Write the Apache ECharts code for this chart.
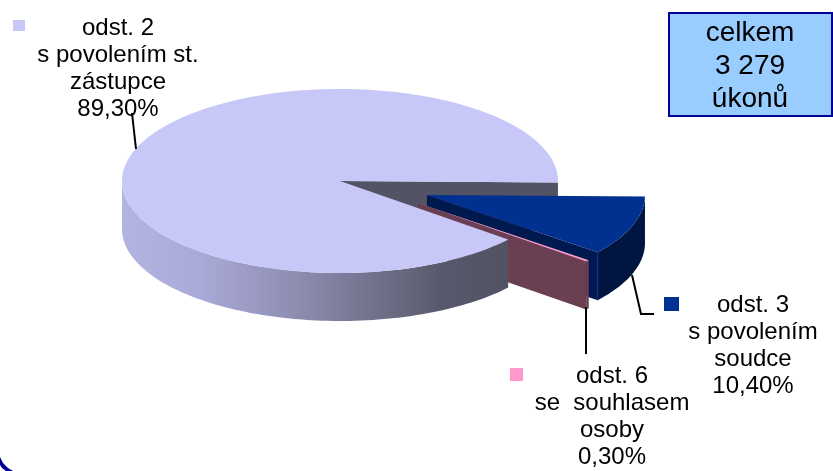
<!DOCTYPE html>
<html>
<head>
<meta charset="utf-8">
<style>html,body{margin:0;padding:0;background:#fff}#c{width:833px;height:471px}</style>
<script src="https://cdn.jsdelivr.net/npm/echarts@6/dist/echarts.min.js"></script>
</head>
<body>
<div id="c"></div>
<script>
const categories = ['odst. 3\ns povolením\nsoudce', 'odst. 6\nse  souhlasem\nosoby', 'odst. 2\ns povolením st.\nzástupce'];
const values = [10.4, 0.3, 89.3];
const percentLabels = ['10,40%', '0,30%', '89,30%'];
const totalLines = ['celkem', '3 279', 'úkonů'];
const keyColors = ['#003090', '#ff99cc', '#c8c8f8'];

const FONT = '"Liberation Sans", Arial, sans-serif';
const cx = 340, cy = 181, rx = 218, ry = 92, depth = 48, rotation = 1;
const looks = [
  { dx: 87, dy: 14, z: 10, top: '#003090', side: '#00153f', face: '#001a50' },
  { dx: 78, dy: 22, z: 20, top: '#ff99cc', side: '#6b3f52', face: '#6b3f52' },
  { dx: 0, dy: 0, z: 30, faceZ: 1, top: '#c8c8f8', face: '#535366',
    side: new echarts.graphic.LinearGradient(0, 0, 1, 0, [
      { offset: 0, color: '#b4b4e2' }, { offset: 0.2, color: '#aaaad8' },
      { offset: 0.46, color: '#8c8cb0' }, { offset: 0.72, color: '#68687f' },
      { offset: 0.83, color: '#58586c' }, { offset: 1, color: '#525264' }
    ]) }
];

function rim(px, py, a, b) {
  const pts = [], n = Math.max(2, Math.ceil(Math.abs(b - a) / 1.5));
  for (let i = 0; i <= n; i++) {
    const t = (a + (b - a) * i / n) * Math.PI / 180;
    pts.push([px + rx * Math.cos(t), py + ry * Math.sin(t)]);
  }
  return pts;
}

function renderItem(params, api) {
  const i = params.dataIndex, look = looks[i];
  const total = values.reduce((s, v) => s + v, 0);
  const before = values.slice(0, i).reduce((s, v) => s + v, 0);
  const a = rotation + before / total * 360;
  const b = a + api.value(0) / total * 360;
  const px = cx + look.dx, py = cy + look.dy;
  const children = [];
  const poly = (points, fill, z2) => children.push({ type: 'polygon', z2: z2, silent: true, shape: { points: points }, style: { fill: fill, stroke: null } });
  const end = rim(px, py, b, b)[0];
  poly([[px, py], end, [end[0], end[1] + depth], [px, py + depth]], look.face, look.faceZ != null ? look.faceZ : look.z);
  const sa = Math.max(a, 0), sb = Math.min(b, 180);
  if (sb > sa) {
    const upper = rim(px, py, sa, sb);
    const lower = upper.map(p => [p[0], p[1] + depth]).reverse();
    poly(upper.concat(lower), look.side, look.z + 1);
  }
  poly([[px, py]].concat(rim(px, py, a, b)), look.top, look.z + 2);
  if (i === 0) {
    children.push({ type: 'line', z2: look.z + 3, silent: true, shape: { x1: end[0], y1: end[1], x2: end[0], y2: end[1] + depth }, style: { stroke: '#0a3090', lineWidth: 1 } });
  }
  return { type: 'group', children: children };
}

function label(text, x, y) {
  return { type: 'text', silent: true, z: 50, x: x, y: y, style: { text: text, font: '24px ' + FONT, lineHeight: 27, fill: '#000', align: 'center', verticalAlign: 'top' } };
}
function key(color, x, y, w, h) {
  return { type: 'rect', silent: true, z: 50, shape: { x: x, y: y, width: w, height: h }, style: { fill: color } };
}
function leader(points) {
  return { type: 'polyline', silent: true, z: 5, shape: { points: points }, style: { stroke: '#000', lineWidth: 2, fill: null } };
}

const option = {
  animation: false,
  backgroundColor: '#fff',
  series: [{
    type: 'custom',
    coordinateSystem: 'none',
    silent: true,
    renderItem: renderItem,
    data: categories.map((c, i) => ({ name: c, value: [values[i]] }))
  }],
  graphic: [
    leader([[132, 113], [136, 149]]),
    leader([[632, 275], [641, 314], [654, 314]]),
    leader([[586, 307], [586, 354]]),
    key(keyColors[2], 13, 20, 12, 11),
    key(keyColors[0], 664, 297, 15, 14),
    key(keyColors[1], 510, 368, 13, 13),
    label(categories[2] + '\n' + percentLabels[2], 118, 15),
    label(categories[0] + '\n' + percentLabels[0], 753, 292),
    label(categories[1] + '\n' + percentLabels[1], 612, 363),
    { type: 'rect', silent: true, z: 40, shape: { x: 669, y: 13, width: 163, height: 103 }, style: { fill: '#99ccff', stroke: '#000099', lineWidth: 2 } },
    { type: 'text', silent: true, z: 50, x: 750, y: 17, style: { text: totalLines.join('\n'), font: '28px ' + FONT, lineHeight: 33, fill: '#000', align: 'center', verticalAlign: 'top' } },
    { type: 'polygon', silent: true, z: 50, shape: { points: [[0, 457], [3, 463], [8, 468], [13, 471], [6, 471], [2, 468], [0, 465]] }, style: { fill: '#000099' } }
  ]
};
echarts.init(document.getElementById('c'), null, { renderer: 'canvas' }).setOption(option);
</script>
</body>
</html>
